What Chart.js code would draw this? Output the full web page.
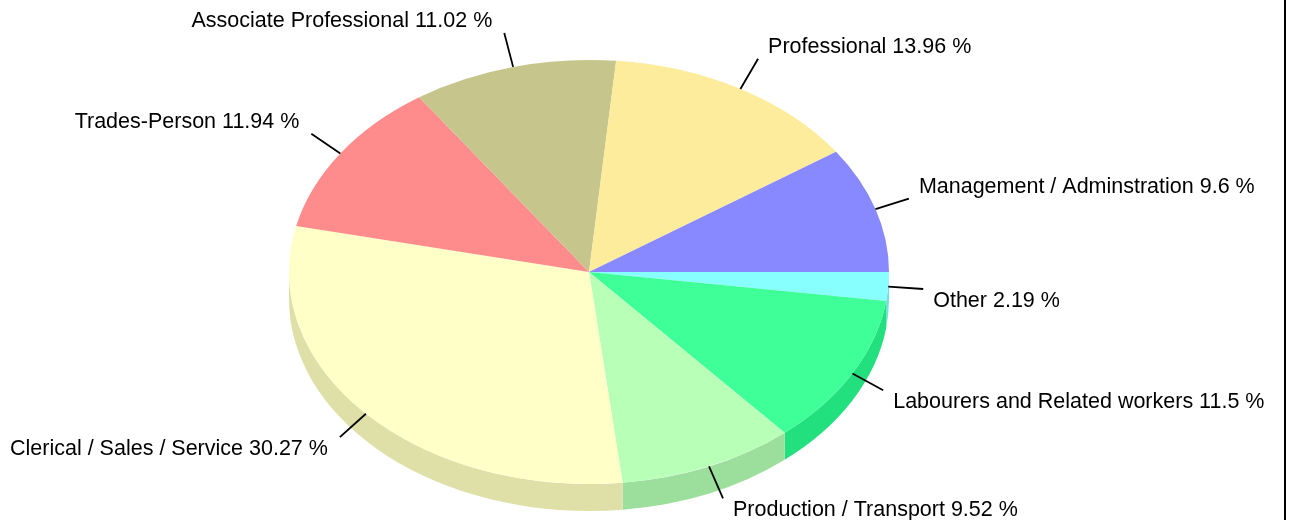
<!DOCTYPE html>
<html>
<head>
<meta charset="utf-8">
<script src="https://cdn.jsdelivr.net/npm/chart.js@4"></script>
<style>
  body { margin: 0; background: #fff; }
  canvas { display: block; }
</style>
</head>
<body>
<canvas id="myChart" width="1295" height="520"></canvas>
<script>
// clockwise from 3 o'clock
var categories = [
  "Other",
  "Labourers and Related workers",
  "Production / Transport",
  "Clerical / Sales / Service",
  "Trades-Person",
  "Associate Professional",
  "Professional",
  "Management / Adminstration"
];
var shares = [2.19, 11.5, 9.52, 30.27, 11.94, 11.02, 13.96, 9.6];

var topColors = ["#88ffff", "#3eff98", "#b8ffb8", "#ffffc8", "#ff8c8c", "#c6c68c", "#fcec9c", "#8888ff"];
var sideColors = ["#70dfdf", "#22e07e", "#9cdf9c", "#dfdfa8", "#df7878", "#abab78", "#dccd88", "#7474df"];

// ellipse geometry of the top face
var CX = 589, CY = 272, RX = 300, RY = 212, DEPTH = 27;

var pie3d = {
  id: "pie3d",
  beforeDatasetsDraw: function(chart) {
    var ctx = chart.ctx;
    var arcs = chart.getDatasetMeta(0).data;
    var p0 = arcs[0].getProps(["x", "y", "outerRadius"], true);
    var sx = RX / p0.outerRadius, sy = RY / p0.outerRadius;
    ctx.save();
    ctx.translate(CX, CY);
    ctx.scale(sx, sy);
    ctx.translate(-p0.x, -p0.y);
    var d = DEPTH / sy;
    arcs.forEach(function(arc, i) {
      var p = arc.getProps(["startAngle", "endAngle"], true);
      var s = Math.max(p.startAngle, 0), e = Math.min(p.endAngle, Math.PI);
      if (e <= s) return;
      ctx.beginPath();
      ctx.arc(p0.x, p0.y, p0.outerRadius, s, e);
      ctx.arc(p0.x, p0.y + d, p0.outerRadius, e, s, true);
      ctx.closePath();
      ctx.fillStyle = sideColors[i];
      ctx.fill();
    });
  },
  afterDatasetsDraw: function(chart) {
    var ctx = chart.ctx;
    ctx.restore();
    var arcs = chart.getDatasetMeta(0).data;
    ctx.save();
    ctx.font = "21.5px 'Liberation Sans', Arial, sans-serif";
    ctx.fillStyle = "#000";
    ctx.strokeStyle = "#000";
    ctx.lineWidth = 1.8;
    arcs.forEach(function(arc, i) {
      var p = arc.getProps(["startAngle", "endAngle"], true);
      var mid = (p.startAngle + p.endAngle) / 2;
      var c = Math.cos(mid), s = Math.sin(mid);
      var px = CX + RX * c, py = CY + RY * s;
      var ex = px + 35 * c, ey = py + 35 * s;
      ctx.beginPath();
      ctx.moveTo(px, py);
      ctx.lineTo(ex, ey);
      ctx.stroke();
      var txt = categories[i] + " " + shares[i] + " %";
      ctx.textBaseline = "alphabetic";
      if (c >= 0) { ctx.textAlign = "left"; } else { ctx.textAlign = "right"; }
      var tx = c >= 0 ? ex + 10 : ex - 12;
      var ty = s < 0 ? ey - 6 : ey + 18;
      ctx.fillText(txt, tx, ty);
    });
    // frame line on the right
    ctx.fillRect(1284, 0, 2, 520);
    ctx.restore();
  }
};

new Chart("myChart", {
  type: "pie",
  data: {
    labels: categories,
    datasets: [{
      data: shares,
      backgroundColor: topColors,
      borderWidth: 0,
      clip: false
    }]
  },
  options: {
    responsive: false,
    animation: false,
    rotation: 90,
    plugins: {
      legend: { display: false },
      tooltip: { enabled: false }
    }
  },
  plugins: [pie3d]
});
</script>
</body>
</html>
